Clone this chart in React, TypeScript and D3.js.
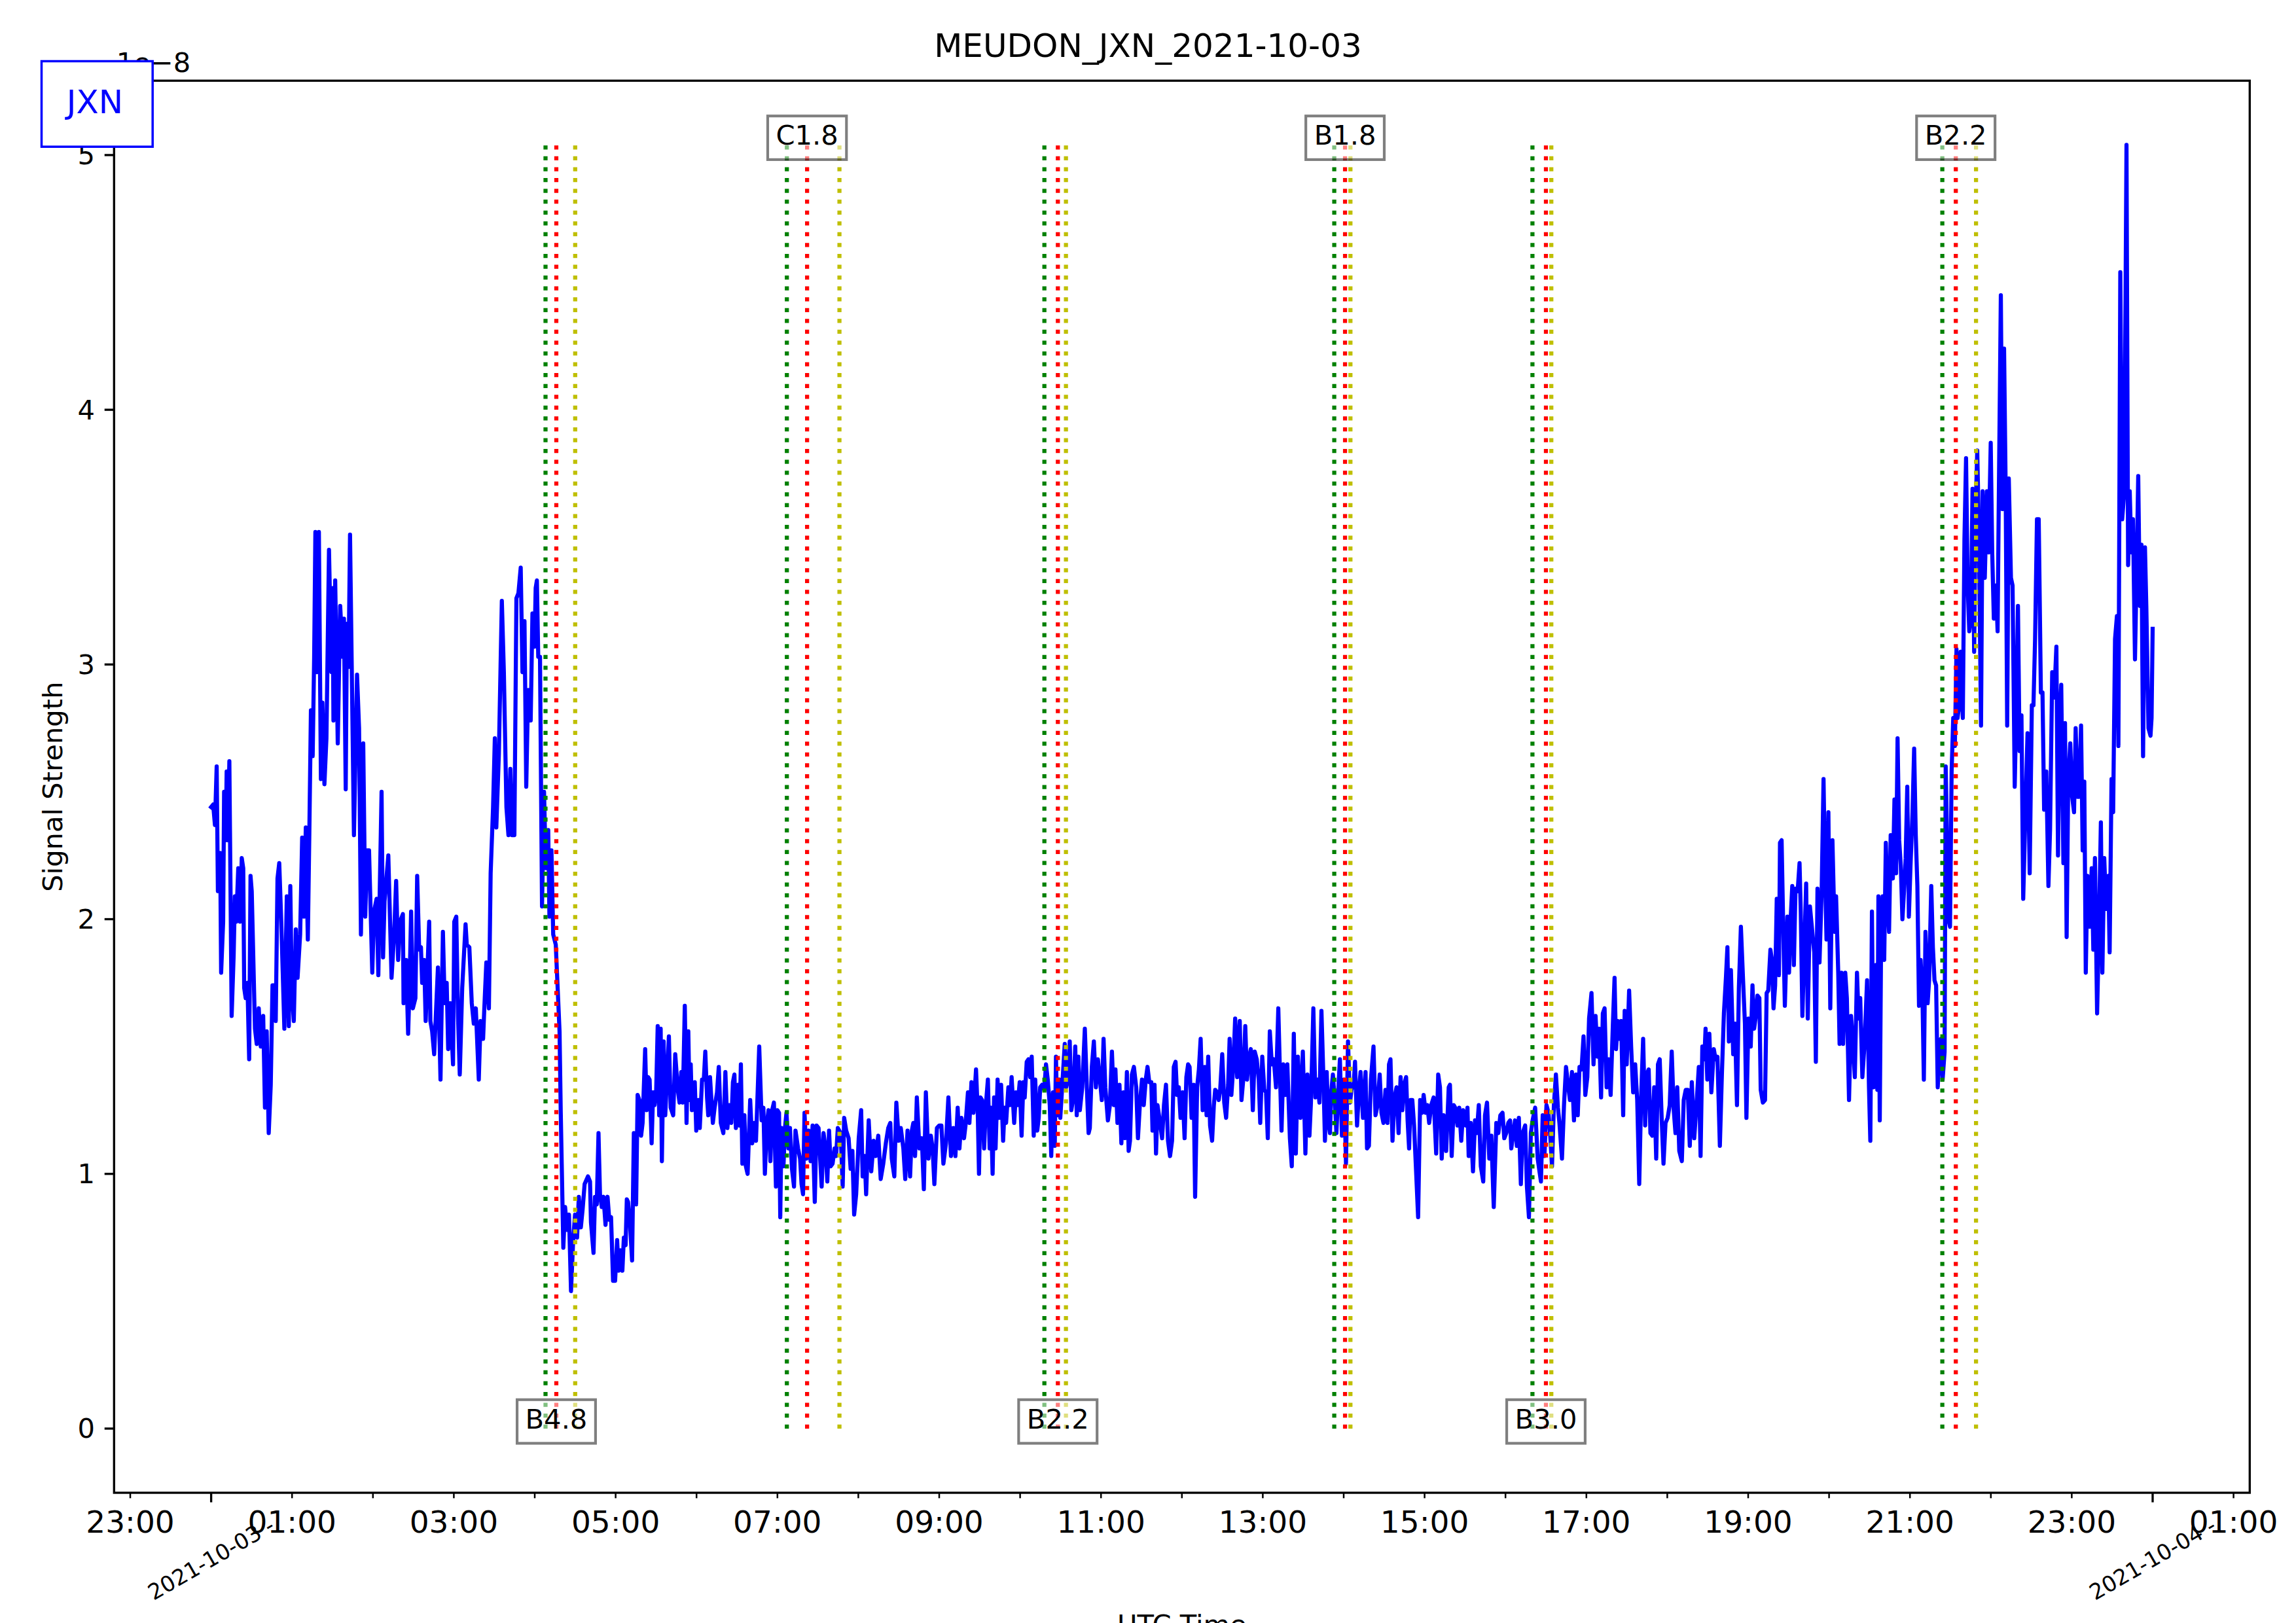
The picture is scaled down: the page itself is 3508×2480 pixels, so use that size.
import React from "react";
import * as d3 from "d3";

// ---------- data (minutes after 2021-10-03 00:00 UTC, signal in units of 1e-8) ----------
const night: [number, number][] = [
  [0.0, 2.44], [1.5, 2.45], [2.8, 2.37], [4.1, 2.6], [5.0, 2.11], [6.7, 2.26], [7.4, 1.79], [8.9, 1.99],
  [9.6, 2.5], [10.8, 2.31], [11.5, 2.58], [12.4, 2.31], [13.5, 2.62], [15.2, 1.62], [16.7, 1.86], [17.6, 2.09],
  [18.6, 1.99], [20.1, 2.2], [21.4, 1.99], [22.7, 2.24], [23.8, 2.2], [24.5, 1.73], [25.6, 1.69], [26.9, 1.75],
  [28.2, 1.45], [29.2, 2.17], [30.1, 2.11], [32.5, 1.57], [33.8, 1.51], [35.3, 1.65], [36.8, 1.5], [38.6, 1.62],
  [39.9, 1.26], [41.2, 1.56], [42.7, 1.16], [44.2, 1.35], [45.5, 1.74], [46.8, 1.74], [47.9, 1.6], [49.2, 2.16],
  [50.5, 2.22], [52.0, 1.99], [54.3, 1.57], [56.1, 2.09], [57.6, 1.58], [58.7, 2.13], [59.8, 1.72], [61.3, 1.6],
  [62.8, 1.96], [64.1, 1.77], [66.0, 1.94], [67.5, 2.32], [68.8, 2.01], [70.2, 2.36], [71.7, 1.92], [72.8, 2.33],
  [74.0, 2.82], [75.3, 2.64], [76.4, 3.03], [77.3, 3.52], [78.4, 2.97], [79.9, 3.52], [81.4, 2.55], [82.5, 2.85],
  [84.0, 2.53], [85.5, 2.71], [87.4, 3.45], [89.2, 2.97], [90.1, 3.3], [90.7, 2.78], [92.0, 3.33], [93.9, 2.69],
  [95.7, 3.23], [97.6, 3.03], [98.5, 3.18], [99.8, 2.51], [100.7, 3.16], [101.9, 2.99], [103.0, 3.51], [105.9, 2.33],
  [108.2, 2.96], [109.7, 2.75], [111.1, 1.94], [112.8, 2.69], [114.3, 2.01], [115.6, 2.27], [117.1, 2.27], [119.5, 1.79],
  [120.8, 2.03], [122.7, 2.08], [124.0, 1.78], [124.9, 2.07], [126.4, 2.5], [127.5, 1.85], [128.6, 2.07], [131.4, 2.25],
  [133.8, 1.77], [135.7, 1.94], [137.2, 2.15], [138.7, 1.84], [140.1, 1.99], [142.2, 2.02], [142.7, 1.67], [144.6, 1.84],
  [146.1, 1.55], [147.2, 1.75], [148.3, 2.03], [149.6, 1.65], [151.5, 1.69], [152.8, 2.17], [154.3, 1.88], [155.6, 1.89],
  [156.5, 1.75], [158.0, 1.84], [159.1, 1.6], [161.7, 1.99], [162.6, 1.6], [163.9, 1.56], [165.4, 1.47], [168.2, 1.81],
  [170.1, 1.37], [171.9, 1.95], [173.2, 1.67], [174.7, 1.75], [175.8, 1.49], [177.3, 1.67], [179.4, 1.43], [180.3, 1.99],
  [181.8, 2.01], [183.1, 1.62], [184.4, 1.39], [186.2, 1.73], [188.7, 1.98], [189.6, 1.9], [191.5, 1.89], [193.3, 1.67],
  [194.8, 1.59], [196.3, 1.65], [198.5, 1.37], [199.8, 1.6], [201.7, 1.53], [202.6, 1.65], [204.1, 1.83], [206.0, 1.65],
  [207.3, 2.18], [209.1, 2.44], [210.4, 2.71], [211.5, 2.36], [213.4, 2.65], [215.6, 3.25], [217.1, 2.97], [219.0, 2.44],
  [220.5, 2.33], [221.9, 2.59], [223.1, 2.33], [224.9, 2.33], [226.4, 3.26], [227.9, 3.28], [229.6, 3.38], [230.9, 2.97],
  [232.4, 3.17], [233.7, 2.52], [235.1, 2.9], [237.0, 2.78], [238.3, 3.2], [239.8, 3.07], [240.7, 3.3], [241.6, 3.33],
  [242.6, 3.03], [243.9, 3.03], [245.4, 2.05], [246.9, 2.5], [248.2, 2.2], [250.0, 2.35], [250.9, 2.01], [252.4, 2.27],
  [253.7, 1.94], [255.6, 1.9], [256.5, 1.79], [258.4, 1.56], [259.3, 1.24], [261.2, 0.71], [262.5, 0.87], [264.0, 0.78],
  [265.4, 0.84], [266.9, 0.54], [268.6, 0.75], [269.9, 0.84], [271.4, 0.75], [272.7, 0.91], [274.2, 0.79], [275.5, 0.86],
  [277.0, 0.96],
];

const morning: [number, number][] = [
  [279.5, 0.99], [281.0, 0.97], [281.7, 0.81], [283.6, 0.69], [284.7, 0.91], [286.0, 0.88], [287.3, 1.16], [288.4, 0.92],
  [289.7, 0.87], [291.0, 0.91], [292.5, 0.8], [294.0, 0.91], [295.3, 0.82], [296.6, 0.83], [298.1, 0.58], [299.6, 0.58],
  [301.1, 0.74], [302.2, 0.62], [303.7, 0.7], [305.0, 0.62], [306.1, 0.75], [307.4, 0.72], [308.3, 0.9], [309.2, 0.89],
  [310.7, 0.8], [312.2, 0.66], [313.5, 1.16], [315.2, 0.88], [316.3, 1.31], [317.6, 1.29], [318.9, 1.15], [320.0, 1.2],
  [321.9, 1.49], [323.0, 1.25], [324.1, 1.38], [325.2, 1.37], [326.7, 1.12], [327.8, 1.32], [328.9, 1.27], [330.1, 1.33],
  [331.2, 1.58], [332.3, 1.23], [333.4, 1.57], [334.3, 1.05], [335.6, 1.52], [336.8, 1.23], [338.2, 1.39], [339.5, 1.54],
  [340.8, 1.26], [342.7, 1.23], [344.2, 1.47], [346.1, 1.33], [347.4, 1.28], [348.7, 1.4], [349.8, 1.28], [351.3, 1.66],
  [352.6, 1.2], [353.9, 1.56], [354.8, 1.29], [355.7, 1.43], [356.6, 1.25], [358.7, 1.36], [359.8, 1.17], [361.3, 1.29],
  [362.4, 1.18], [364.1, 1.37], [365.4, 1.37], [366.5, 1.48], [367.8, 1.3], [368.7, 1.23], [370.0, 1.38], [372.1, 1.2],
  [373.4, 1.26], [375.2, 1.32], [376.5, 1.42], [378.0, 1.2], [379.9, 1.16], [381.4, 1.4], [382.9, 1.18], [384.3, 1.27],
  [385.8, 1.2], [387.0, 1.36], [388.1, 1.39], [389.2, 1.18], [390.7, 1.35], [391.8, 1.19], [392.9, 1.43], [394.0, 1.04],
  [395.5, 1.23], [396.6, 1.03], [397.9, 1.0], [399.8, 1.29], [401.3, 1.12], [402.8, 1.2], [404.1, 1.13], [406.5, 1.5],
  [408.3, 1.21], [409.6, 1.26], [410.7, 1.0], [412.2, 1.2], [413.4, 1.25], [414.8, 1.05], [416.1, 1.25], [417.4, 1.28],
  [418.9, 0.95], [420.0, 1.25], [421.2, 1.24], [422.1, 0.83], [423.0, 1.18], [424.5, 1.03], [425.6, 1.18], [426.7, 1.24],
  [428.2, 1.1], [429.3, 1.18], [430.8, 1.02], [432.3, 0.95], [433.4, 1.17], [435.3, 1.1], [436.8, 1.06], [437.9, 0.96],
  [439.0, 0.92], [440.1, 1.24], [441.6, 1.06], [443.1, 1.17], [444.6, 1.05], [446.1, 1.19], [447.7, 0.89], [449.0, 1.19],
  [450.5, 1.18], [451.8, 1.05], [452.8, 0.95], [454.2, 1.16], [455.7, 1.1], [457.0, 0.97], [458.3, 1.17], [459.5, 1.03],
  [460.9, 1.04], [462.4, 1.1], [463.5, 1.07], [464.8, 1.18], [466.9, 1.16], [468.4, 0.95], [469.5, 1.22], [471.0, 1.17],
  [472.8, 1.14], [474.3, 1.02], [475.6, 1.09], [476.9, 0.84], [478.4, 0.92], [480.3, 1.14], [482.1, 1.25], [483.2, 0.99],
  [484.7, 1.07], [485.8, 0.92], [487.7, 1.21], [489.6, 1.01], [491.4, 1.13], [492.9, 1.07], [494.8, 1.15], [496.6, 0.98],
  [498.5, 1.04], [500.4, 1.12], [502.2, 1.18], [503.7, 1.2], [504.8, 1.06], [506.7, 0.99], [508.2, 1.28], [510.0, 1.13],
  [511.5, 1.18], [513.4, 1.1], [514.8, 0.98], [516.5, 1.17], [518.4, 0.99], [519.7, 1.17], [520.8, 1.2], [522.1, 1.07],
  [523.4, 1.3], [525.3, 1.1], [527.1, 1.14], [528.6, 0.94], [530.1, 1.32], [532.0, 1.06], [533.8, 1.15], [535.1, 1.1],
  [536.4, 0.96], [538.3, 1.18], [540.1, 1.19], [541.6, 1.19], [543.1, 1.04], [545.0, 1.12], [546.8, 1.3], [548.7, 1.07],
  [550.5, 1.18], [552.0, 1.07], [553.7, 1.26], [555.0, 1.1], [556.5, 1.22], [558.4, 1.14], [559.5, 1.19], [561.3, 1.32],
  [562.4, 1.2], [563.9, 1.36], [565.4, 1.24], [567.3, 1.41], [568.6, 1.24], [569.5, 1.0], [570.6, 1.3],
];

const midday: [number, number][] = [
  [571.8, 1.29], [573.3, 1.1], [574.6, 1.27], [576.1, 1.37], [577.4, 1.1], [578.3, 1.26], [579.6, 1.0], [580.7, 1.3],
  [581.8, 1.1], [583.3, 1.37], [584.4, 1.22], [585.9, 1.35], [587.4, 1.13], [588.5, 1.26], [589.6, 1.2], [591.3, 1.34],
  [592.6, 1.27], [593.7, 1.38], [595.6, 1.2], [596.9, 1.32], [598.2, 1.27], [599.7, 1.36], [601.1, 1.15], [602.4, 1.36],
  [603.4, 1.3], [604.9, 1.44], [606.2, 1.45], [607.5, 1.38], [608.6, 1.46], [610.1, 1.15], [611.2, 1.37], [612.7, 1.17],
  [613.8, 1.22], [614.9, 1.34], [616.4, 1.35], [617.9, 1.33], [619.2, 1.43], [620.5, 1.37], [622.0, 1.27], [623.1, 1.07],
  [624.4, 1.32], [625.7, 1.11], [626.6, 1.46], [627.5, 1.23], [629.0, 1.37], [629.8, 1.22], [631.3, 1.35], [633.1, 1.51],
  [634.2, 1.34], [635.4, 1.37], [636.8, 1.52], [638.0, 1.25], [639.4, 1.3], [640.9, 1.5], [642.0, 1.23], [643.2, 1.46],
  [644.3, 1.25], [646.1, 1.34], [648.0, 1.57], [649.5, 1.34], [650.8, 1.16], [651.7, 1.18], [653.2, 1.42], [654.7, 1.52],
  [656.2, 1.34], [657.7, 1.45], [659.2, 1.37], [660.6, 1.29], [661.9, 1.53], [663.2, 1.34], [665.1, 1.21], [666.6, 1.27],
  [668.1, 1.48], [669.6, 1.27], [670.7, 1.41], [672.2, 1.2], [673.7, 1.35], [675.1, 1.12], [676.6, 1.32], [677.7, 1.14],
  [679.2, 1.4], [680.5, 1.09], [681.5, 1.13], [682.9, 1.39], [684.4, 1.42], [686.1, 1.34], [687.4, 1.14], [688.9, 1.28],
  [690.4, 1.37], [691.7, 1.27], [693.2, 1.37], [694.5, 1.42], [695.8, 1.36], [697.3, 1.36], [698.2, 1.17], [699.7, 1.35],
  [700.8, 1.08], [701.9, 1.27], [703.8, 1.2], [705.3, 1.14], [706.7, 1.27], [708.2, 1.35], [709.7, 1.13], [711.2, 1.07],
  [712.7, 1.13], [714.0, 1.42], [715.3, 1.44], [716.4, 1.31], [717.7, 1.34], [719.0, 1.22], [720.5, 1.32], [722.0, 1.14],
  [723.3, 1.38], [724.6, 1.43], [725.7, 1.42], [727.2, 1.22], [728.7, 1.35], [729.8, 0.91], [731.3, 1.34], [732.6, 1.41],
  [733.9, 1.53], [735.4, 1.25], [736.9, 1.42], [738.3, 1.23], [739.5, 1.46], [740.9, 1.19], [742.4, 1.13], [743.7, 1.27],
  [744.7, 1.33], [746.2, 1.32], [747.3, 1.29], [748.4, 1.33], [749.9, 1.47], [751.4, 1.28], [752.8, 1.22], [754.3, 1.35],
  [755.4, 1.53], [756.7, 1.31], [758.1, 1.42], [759.5, 1.61], [761.0, 1.38], [762.9, 1.6], [764.2, 1.29], [765.5, 1.37],
  [767.0, 1.58], [768.3, 1.37], [769.6, 1.45], [771.1, 1.49], [772.6, 1.25], [774.0, 1.48], [775.5, 1.45], [777.0, 1.37],
  [778.1, 1.2], [779.6, 1.46], [781.1, 1.33], [782.4, 1.32], [783.7, 1.14], [785.2, 1.56], [786.7, 1.43], [788.2, 1.45],
  [789.8, 1.34], [791.5, 1.65], [792.6, 1.42], [793.9, 1.17], [795.2, 1.43], [796.7, 1.31], [798.2, 1.43], [800.1, 1.14],
  [801.5, 1.03], [803.0, 1.55], [804.5, 1.08], [806.0, 1.46], [807.9, 1.22], [809.7, 1.48], [811.6, 1.08], [813.1, 1.39],
  [814.6, 1.15], [815.7, 1.28], [817.5, 1.65], [819.0, 1.3], [820.5, 1.37], [822.0, 1.28], [823.5, 1.64], [825.0, 1.37],
  [826.1, 1.13], [827.4, 1.4], [828.7, 1.2], [829.8, 1.16], [830.9, 1.33], [832.0, 1.39], [833.5, 1.28], [834.6, 1.16],
  [836.1, 1.34], [837.2, 1.45], [838.7, 1.15], [840.2, 1.37], [841.7, 1.04], [843.2, 1.52], [844.7, 1.28], [846.2, 1.35],
  [847.3, 1.34], [848.4, 1.44], [849.9, 1.19], [851.4, 1.33], [852.5, 1.4], [854.3, 1.22], [856.2, 1.4], [857.3, 1.1],
];

const afternoon: [number, number][] = [
  [858.7, 1.11], [860.2, 1.37], [862.1, 1.5], [863.6, 1.23], [865.1, 1.27], [866.7, 1.39], [868.0, 1.24], [869.5, 1.2],
  [871.0, 1.33], [872.5, 1.2], [873.6, 1.43], [874.7, 1.45], [876.2, 1.13], [877.7, 1.3], [879.2, 1.34], [880.7, 1.16],
  [882.2, 1.38], [883.5, 1.25], [884.8, 1.35], [886.3, 1.38], [887.4, 1.21], [888.5, 1.1], [889.6, 1.29], [890.9, 1.29],
  [892.2, 1.19], [895.2, 0.83], [896.7, 1.29], [898.2, 1.24], [899.3, 1.31], [900.8, 1.24], [902.1, 1.27], [903.4, 1.2],
  [904.9, 1.27], [906.7, 1.3], [908.6, 1.08], [910.1, 1.39], [911.4, 1.34], [912.7, 1.06], [914.1, 1.23], [916.0, 1.09],
  [917.9, 1.34], [918.8, 1.35], [920.1, 1.07], [921.6, 1.27], [922.7, 1.26], [924.4, 1.19], [925.7, 1.26], [927.2, 1.13],
  [928.6, 1.25], [930.5, 1.19], [931.8, 1.26], [932.7, 1.07], [934.2, 1.2], [935.9, 1.01], [937.4, 1.21], [938.7, 1.16],
  [940.2, 1.27], [941.7, 1.03], [943.5, 0.97], [944.8, 1.23], [946.3, 1.28], [948.0, 1.06], [949.5, 1.15], [951.3, 0.87],
  [953.2, 1.2], [954.7, 1.16], [956.2, 1.23], [957.8, 1.24], [959.1, 1.14], [960.6, 1.16], [962.1, 1.2], [963.4, 1.21],
  [964.3, 1.1], [965.8, 1.16], [967.1, 1.21], [968.4, 1.11], [969.9, 1.22], [971.4, 0.96], [972.7, 1.16], [974.6, 1.19],
  [975.9, 0.95], [977.4, 0.83], [978.8, 1.16], [980.1, 1.21], [982.0, 1.26], [983.9, 1.06], [985.2, 1.01], [986.3, 0.97],
  [987.6, 1.23], [988.9, 1.07], [990.4, 1.27], [991.9, 1.24], [993.2, 1.15], [994.5, 1.03], [995.9, 1.27], [997.4, 1.39],
  [998.9, 1.26], [1000.0, 1.2], [1001.9, 1.06], [1003.4, 1.27], [1004.9, 1.42], [1006.4, 1.35], [1007.8, 1.29], [1009.3, 1.4],
  [1010.8, 1.21], [1012.3, 1.39], [1013.6, 1.23], [1014.9, 1.42], [1016.4, 1.41], [1017.9, 1.54], [1019.2, 1.31], [1020.7, 1.38],
  [1022.0, 1.61], [1023.8, 1.71], [1025.3, 1.43], [1026.8, 1.62], [1028.3, 1.46], [1029.4, 1.57], [1030.9, 1.3], [1032.2, 1.63],
  [1033.5, 1.65], [1035.0, 1.34], [1036.5, 1.45], [1038.0, 1.31], [1039.6, 1.58], [1040.9, 1.77], [1042.0, 1.49], [1043.3, 1.6],
  [1044.6, 1.53], [1045.8, 1.6], [1047.3, 1.23], [1048.4, 1.64], [1049.9, 1.43], [1051.7, 1.72], [1053.2, 1.5], [1054.7, 1.32],
  [1056.2, 1.43], [1057.7, 1.29], [1059.2, 0.96], [1060.6, 1.3], [1062.1, 1.53], [1063.6, 1.19], [1064.7, 1.39], [1066.2, 1.41],
  [1067.5, 1.16], [1068.8, 1.15], [1070.3, 1.34], [1071.8, 1.06], [1073.1, 1.43], [1074.4, 1.45], [1075.9, 1.21], [1077.2, 1.04],
  [1078.7, 1.2], [1080.3, 1.22], [1081.8, 1.27], [1083.3, 1.48], [1084.8, 1.25], [1086.1, 1.16], [1087.4, 1.34], [1088.9, 1.09],
  [1090.8, 1.05], [1092.2, 1.29], [1093.7, 1.33], [1095.2, 1.33], [1096.7, 1.11], [1098.2, 1.36], [1100.0, 1.14], [1101.9, 1.29],
  [1103.4, 1.42], [1104.7, 1.07], [1106.0, 1.5], [1107.5, 1.45], [1108.4, 1.57], [1109.7, 1.37], [1111.2, 1.55], [1112.7, 1.32],
  [1114.5, 1.49], [1115.8, 1.45], [1117.2, 1.46], [1119.0, 1.11], [1120.5, 1.39], [1122.0, 1.63], [1123.5, 1.77], [1124.6, 1.89],
  [1125.7, 1.52], [1127.2, 1.8], [1128.9, 1.47], [1130.2, 1.59], [1131.7, 1.27], [1133.1, 1.73], [1134.6, 1.97], [1136.3, 1.75],
  [1137.6, 1.59], [1138.7, 1.22], [1140.2, 1.61], [1141.9, 1.5], [1143.2, 1.74],
];

const evening: [number, number][] = [
  [1144.4, 1.57], [1145.7, 1.62], [1146.9, 1.7], [1148.3, 1.69], [1149.3, 1.33], [1150.9, 1.28], [1152.5, 1.29], [1153.7, 1.71],
  [1154.9, 1.72], [1156.5, 1.88], [1157.6, 1.84], [1158.8, 1.65], [1160.0, 1.74], [1161.2, 2.08], [1162.8, 1.78], [1163.6, 2.3],
  [1164.8, 2.31], [1166.0, 1.97], [1167.2, 1.66], [1169.1, 2.01], [1170.3, 1.79], [1171.5, 2.0], [1172.7, 2.13], [1173.9, 1.82],
  [1175.1, 2.12], [1176.7, 2.11], [1178.1, 2.22], [1179.0, 2.03], [1180.2, 1.62], [1181.4, 1.84], [1183.0, 2.14], [1184.2, 1.61],
  [1185.8, 2.05], [1187.4, 1.96], [1189.0, 1.87], [1190.2, 1.44], [1191.4, 2.12], [1192.9, 1.83], [1194.5, 2.11], [1195.9, 2.55],
  [1196.9, 2.21], [1198.1, 1.92], [1199.5, 2.42], [1200.9, 1.65], [1202.5, 2.31], [1204.1, 1.95], [1205.2, 2.09], [1206.8, 1.79],
  [1207.8, 1.51], [1209.2, 1.79], [1210.4, 1.51], [1212.0, 1.79], [1213.2, 1.69], [1214.8, 1.29], [1216.3, 1.62], [1217.5, 1.53],
  [1219.1, 1.38], [1220.7, 1.79], [1221.9, 1.61], [1223.1, 1.69], [1224.7, 1.38], [1226.3, 1.51], [1228.2, 1.76], [1229.6, 1.34],
  [1230.6, 1.13], [1231.8, 2.03], [1233.0, 1.34], [1234.6, 1.82], [1235.8, 1.33], [1236.6, 2.09], [1237.6, 1.21], [1238.6, 1.92],
  [1239.7, 2.09], [1240.9, 1.84], [1242.1, 2.3], [1243.3, 2.08], [1244.5, 1.95], [1245.7, 2.33], [1247.3, 2.16], [1248.5, 2.47],
  [1249.7, 2.18], [1250.8, 2.71], [1252.0, 2.31], [1253.2, 2.21], [1254.4, 2.0], [1255.6, 2.11], [1256.8, 2.24], [1258.0, 2.52],
  [1259.2, 2.01], [1260.4, 2.21], [1261.9, 2.42], [1263.1, 2.67], [1264.3, 2.33], [1265.5, 2.13], [1266.7, 1.66], [1267.9, 1.84],
  [1269.3, 1.69], [1270.3, 1.37], [1271.5, 1.95], [1273.1, 1.67], [1274.2, 1.76], [1275.8, 2.13], [1277.0, 1.89], [1278.2, 1.76],
  [1279.4, 1.74], [1280.6, 1.34], [1281.8, 1.48], [1283.0, 1.53], [1284.2, 1.37], [1285.7, 1.48], [1286.5, 2.6], [1287.7, 2.26],
  [1288.5, 2.0], [1289.7, 1.97], [1290.9, 2.58], [1292.1, 2.79], [1293.3, 2.68], [1294.5, 3.06], [1295.3, 2.79], [1296.5, 2.84],
  [1297.6, 3.05], [1299.2, 2.79], [1300.4, 3.49], [1301.6, 3.81], [1302.8, 3.31], [1304.0, 3.13], [1305.2, 3.18], [1306.4, 3.69],
  [1307.6, 3.05], [1308.7, 3.6], [1309.9, 3.84], [1311.1, 3.52], [1312.7, 2.76], [1313.9, 3.68], [1315.5, 3.34], [1317.1, 3.68],
  [1318.3, 3.44], [1319.9, 3.87], [1321.0, 3.44], [1322.2, 3.18], [1323.8, 3.31], [1325.0, 3.13], [1325.8, 3.6], [1327.4, 4.45],
  [1328.6, 3.61], [1329.8, 4.24], [1331.0, 3.68], [1332.1, 2.76], [1333.3, 3.73], [1334.9, 3.34], [1336.1, 3.31], [1337.7, 2.52],
  [1338.9, 2.84], [1340.1, 3.23], [1341.3, 2.66], [1342.7, 2.8], [1344.0, 2.08], [1345.6, 2.42], [1347.2, 2.73], [1348.8, 2.18],
  [1350.4, 2.84], [1351.6, 2.84], [1352.8, 3.1], [1354.2, 3.57], [1355.5, 3.57], [1357.1, 2.89], [1358.3, 2.89], [1359.5, 2.43],
  [1361.1, 2.58], [1362.7, 2.13], [1363.9, 2.35], [1365.5, 2.97], [1367.0, 2.87], [1368.6, 3.07], [1369.8, 2.25], [1371.0, 2.79],
  [1372.2, 2.92], [1373.8, 2.22], [1375.0, 2.77], [1376.2, 1.93], [1377.4, 2.55], [1378.9, 2.69], [1380.3, 2.48], [1381.7, 2.42],
  [1382.9, 2.75], [1384.3, 2.48], [1385.3, 2.48], [1386.9, 2.76], [1388.1, 2.27], [1389.3, 2.54], [1390.4, 1.79], [1391.6, 2.17],
  [1393.2, 1.97], [1394.8, 2.2], [1396.0, 1.88], [1397.2, 2.24], [1398.8, 1.63], [1400.2, 1.97], [1401.6, 2.38], [1402.7, 1.79],
  [1404.1, 2.24], [1405.5, 2.04], [1407.1, 2.17], [1408.1, 1.87], [1409.5, 2.55], [1410.7, 2.42], [1412.1, 3.1], [1413.5, 3.19],
  [1414.6, 2.68], [1416.0, 4.54], [1417.4, 3.57], [1419.0, 3.68], [1420.6, 5.04], [1421.8, 3.39], [1423.0, 3.68], [1424.2, 3.44],
  [1425.4, 3.57], [1426.9, 3.02], [1428.1, 3.36], [1429.3, 3.74], [1430.5, 3.23], [1431.7, 3.47], [1432.9, 2.64], [1434.3, 3.46],
  [1435.3, 3.23], [1436.9, 2.75], [1438.4, 2.72], [1439.2, 2.79], [1440.0, 3.14],
];

// ---------- labels & annotations ----------
const STATION = "JXN";
const PLOT_TITLE = "MEUDON_JXN_2021-10-03";
const Y_LABEL = "Signal Strength";
const X_LABEL = "UTC Time";
const OFFSET_TEXT = "1e\u22128";
const DAY = "2021-10-03";
const yTickValues = [0, 1, 2, 3, 4, 5];

const flareClass = ["B4.8", "C1.8", "B2.2", "B1.8", "B3.0", "B2.2"];
const flareStart = ["04:08", "07:07", "10:18", "13:53", "16:20", "21:24"];
const flarePeak = ["04:16", "07:22", "10:28", "14:01", "16:30", "21:34"];
const flareEnd = ["04:30", "07:46", "10:34", "14:05", "16:34", "21:49"];
const flareLabelTop = [false, true, false, true, false, true];

// ---------- layout ----------
const W = 3508;
const H = 2480;
const PLOT = { left: 174.3, right: 3437.3, top: 123.3, bottom: 2281 };
const FONT = "'DejaVu Sans', 'Liberation Sans', sans-serif";
const PT = 300 / 72;

let _ctx: CanvasRenderingContext2D | null = null;
function measure(text: string, px: number): number {
  if (!_ctx) _ctx = document.createElement("canvas").getContext("2d");
  if (!_ctx) return text.length * px * 0.6;
  _ctx.font = `${px}px 'DejaVu Sans'`;
  return _ctx.measureText(text).width;
}

export default function App() {
  const dayStart = Date.UTC(2021, 9, 3);
  const series = [...night, ...morning, ...midday, ...afternoon, ...evening].map(([m, v]) => ({
    date: new Date(dayStart + m * 60000),
    v,
  }));

  const [d0, d1] = d3.extent(series, (d) => d.date) as [Date, Date];
  const span = +d1 - +d0;
  const x = d3
    .scaleUtc()
    .domain([new Date(+d0 - 0.05 * span), new Date(+d1 + 0.05 * span)])
    .range([PLOT.left, PLOT.right]);

  const vmax = d3.max(series, (d) => d.v) as number;
  const vmin = 0;
  const yr = vmax - vmin;
  const y = d3
    .scaleLinear()
    .domain([vmin - 0.05 * yr, vmax + 0.05 * yr])
    .range([PLOT.bottom, PLOT.top]);

  const line = d3
    .line<{ date: Date; v: number }>()
    .x((d) => x(d.date))
    .y((d) => y(d.v));

  const parse = d3.utcParse("%Y-%m-%d %H:%M");
  const flares = flareClass.map((c, i) => ({
    cls: c,
    start: parse(`${DAY} ${flareStart[i]}`) as Date,
    peak: parse(`${DAY} ${flarePeak[i]}`) as Date,
    end: parse(`${DAY} ${flareEnd[i]}`) as Date,
    top: flareLabelTop[i],
  }));

  const [xd0, xd1] = x.domain();
  const hours = d3.utcHour.range(xd0, xd1);
  const fmtHour = d3.utcFormat("%H:%M");
  const fmtDay = d3.utcFormat("%Y-%m-%d");

  const tickFs = 47;
  const smallFs = 10 * PT;
  const dateFs = 8 * PT;
  const titleFs = 12 * PT;

  const lw = 1.5 * PT;
  const dash = `${1.5 * PT} ${2.475 * PT}`;
  const spineW = 0.8 * PT;

  const labelFs = 10 * PT;
  const pad = 0.3 * labelFs;

  return (
    <svg
      width={W}
      height={H}
      viewBox={`0 0 ${W} ${H}`}
      style={{ position: "absolute", left: 0, top: 0, background: "#fff" }}
      fontFamily={FONT}
    >
      <rect x={0} y={0} width={W} height={H} fill="#fff" />

      {/* signal */}
      <path
        d={line(series) || ""}
        fill="none"
        stroke="#0000ff"
        strokeWidth={lw}
        strokeLinejoin="round"
        strokeLinecap="square"
      />

      {/* flare markers */}
      {flares.map((f, i) => (
        <g key={`fl${i}`}>
          {[
            { t: f.start, c: "#008000" },
            { t: f.peak, c: "#ff0000" },
            { t: f.end, c: "#bfbf00" },
          ].map((m, j) => (
            <line
              key={j}
              x1={x(m.t)}
              x2={x(m.t)}
              y1={y(0)}
              y2={y(vmax)}
              stroke={m.c}
              strokeWidth={lw}
              strokeDasharray={dash}
            />
          ))}
        </g>
      ))}

      {/* flare class labels */}
      {flares.map((f, i) => {
        const tw = measure(f.cls, labelFs);
        const cx = x(f.peak);
        const base = f.top ? y(vmax) : y(0);
        const asc = 0.76 * labelFs;
        const desc = 0.24 * labelFs;
        return (
          <g key={`lab${i}`}>
            <rect
              x={cx - tw / 2 - pad}
              y={base - asc - pad}
              width={tw + 2 * pad}
              height={asc + desc + 2 * pad}
              fill="#ffffff"
              fillOpacity={0.5}
              stroke="#000000"
              strokeOpacity={0.5}
              strokeWidth={PT}
            />
            <text x={cx} y={base} fontSize={labelFs} textAnchor="middle" fill="#000">
              {f.cls}
            </text>
          </g>
        );
      })}

      {/* spines */}
      <rect
        x={PLOT.left}
        y={PLOT.top}
        width={PLOT.right - PLOT.left}
        height={PLOT.bottom - PLOT.top}
        fill="none"
        stroke="#000"
        strokeWidth={spineW}
        strokeLinecap="square"
      />

      {/* y axis */}
      {yTickValues.map((t) => (
        <g key={`yt${t}`}>
          <line
            x1={PLOT.left}
            x2={PLOT.left - 3.5 * PT}
            y1={y(t)}
            y2={y(t)}
            stroke="#000"
            strokeWidth={spineW}
          />
          <text
            x={PLOT.left - 7 * PT}
            y={y(t)}
            fontSize={smallFs}
            textAnchor="end"
            dominantBaseline="central"
          >
            {String(t)}
          </text>
        </g>
      ))}
      <text x={PLOT.left + 3.5} y={110} fontSize={smallFs}>
        {OFFSET_TEXT}
      </text>
      <text
        transform={`translate(80, ${(PLOT.top + PLOT.bottom) / 2}) rotate(-90)`}
        fontSize={smallFs}
        textAnchor="middle"
        dominantBaseline="central"
      >
        {Y_LABEL}
      </text>

      {/* x axis */}
      {hours.map((h) => {
        const isMajor = h.getUTCHours() === 0;
        const hx = x(h);
        return (
          <g key={`xt${+h}`}>
            <line
              x1={hx}
              x2={hx}
              y1={PLOT.bottom}
              y2={PLOT.bottom + (isMajor ? 3.5 * PT : 2 * PT)}
              stroke="#000"
              strokeWidth={isMajor ? spineW : 0.6 * PT}
            />
            {!isMajor && h.getUTCHours() % 2 === 1 && (
              <text x={hx} y={2342} fontSize={tickFs} textAnchor="middle">
                {fmtHour(h)}
              </text>
            )}
            {isMajor && (
              <text
                transform={`translate(${hx}, 2382) rotate(-30)`}
                fontSize={dateFs}
                textAnchor="middle"
                dominantBaseline="central"
              >
                {`${fmtDay(h)} -`}
              </text>
            )}
          </g>
        );
      })}
      <text x={(PLOT.left + PLOT.right) / 2} y={2497} fontSize={smallFs} textAnchor="middle">
        {X_LABEL}
      </text>

      {/* title */}
      <text x={W / 2} y={87} fontSize={titleFs} textAnchor="middle">
        {PLOT_TITLE}
      </text>

      {/* station legend */}
      <rect x={63.5} y={93.5} width={169.7} height={130.7} fill="#fff" stroke="#0000ff" strokeWidth={3.5} />
      <text x={101.7} y={173.3} fontSize={titleFs} fill="#0000ff">
        {STATION}
      </text>
    </svg>
  );
}
